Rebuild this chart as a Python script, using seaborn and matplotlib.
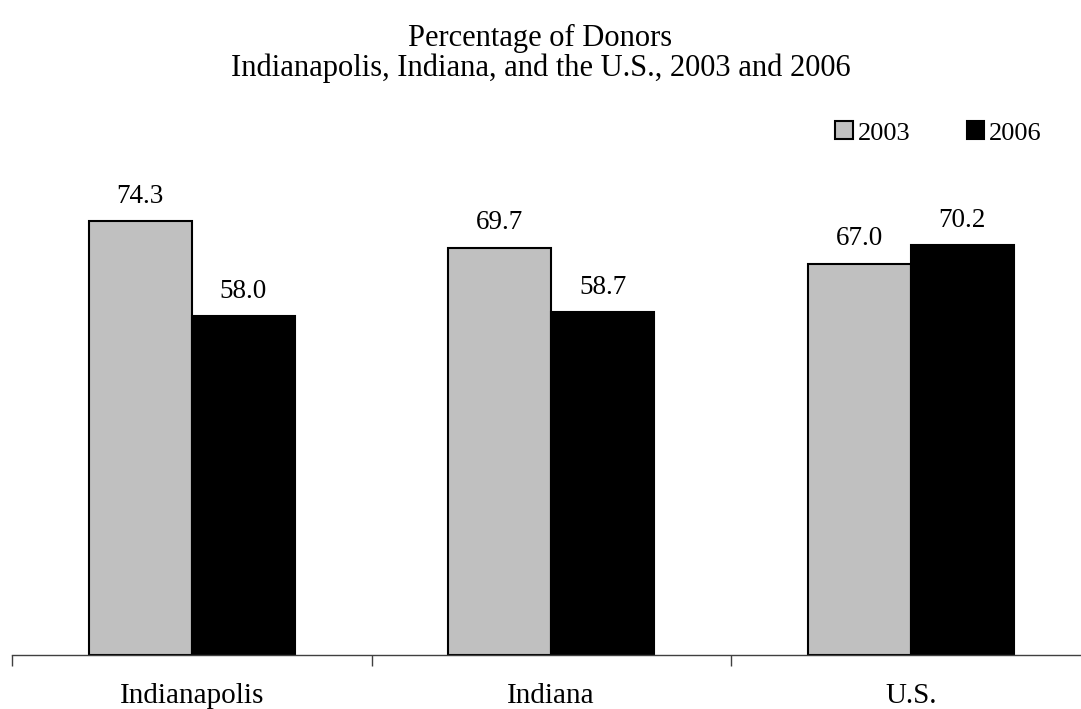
import pandas as pd
import matplotlib
matplotlib.use('Agg')
import matplotlib.pyplot as plt
import seaborn as sns

# Данные графика
places = ['Indianapolis', 'Indiana', 'U.S.']
years = ['2003', '2006']
donors_2003 = [74.3, 69.7, 67.0]
donors_2006 = [58.0, 58.7, 70.2]

df = pd.DataFrame({
    'place': places * 2,
    'year': [years[0]] * 3 + [years[1]] * 3,
    'pct': donors_2003 + donors_2006,
})

sns.set_style('white')
plt.rcParams['font.family'] = ['Liberation Serif', 'DejaVu Serif']
plt.rcParams['text.color'] = 'black'
plt.rcParams['xtick.labelcolor'] = 'black'

fig = plt.figure(figsize=(10.81, 7.09), dpi=100)
ax = fig.add_axes([12 / 1081, 54 / 709, 1078.5 / 1081, 525.6 / 709])

sns.barplot(data=df, x='place', y='pct', hue='year', order=places, hue_order=years,
            palette=['#C0C0C0', '#000000'], width=0.573, edgecolor='black',
            linewidth=1.5, ax=ax)

for c in ax.containers:
    ax.bar_label(c, fmt='%.1f', padding=9, fontsize=19.5, color='black')

ax.set_xlim(-0.5, 2.5)
ax.set_ylim(0, 90)
ax.set_xlabel('')
ax.set_ylabel('')
ax.set_yticks([])
for s in ['top', 'right', 'left']:
    ax.spines[s].set_visible(False)
ax.spines['bottom'].set_color('#404040')
ax.spines['bottom'].set_linewidth(1)

# деления между группами
ax.set_xticks([-0.5, 0.5, 1.5, 2.5], minor=True)
ax.tick_params(axis='x', which='minor', length=8, width=1, color='#404040', direction='out')
ax.tick_params(axis='x', which='major', length=0, pad=20, labelsize=21, labelcolor='black')
ax.tick_params(axis='x', which='both', bottom=True)

ax.legend(loc='center right', bbox_to_anchor=((1042 - 12) / 1078.5, (655 - 133) / 525.6),
          ncol=2, frameon=False, fontsize=19, handlelength=0.65, handleheight=0.65,
          handletextpad=0.19, columnspacing=2.16, borderaxespad=0, borderpad=0)

fig.text(0.5, 1 - 46 / 709, 'Percentage of Donors', ha='center', va='baseline', fontsize=22)
fig.text(0.5, 1 - 76 / 709, 'Indianapolis, Indiana, and the U.S., 2003 and 2006',
         ha='center', va='baseline', fontsize=22)

plt.savefig('out.png', dpi=100)
